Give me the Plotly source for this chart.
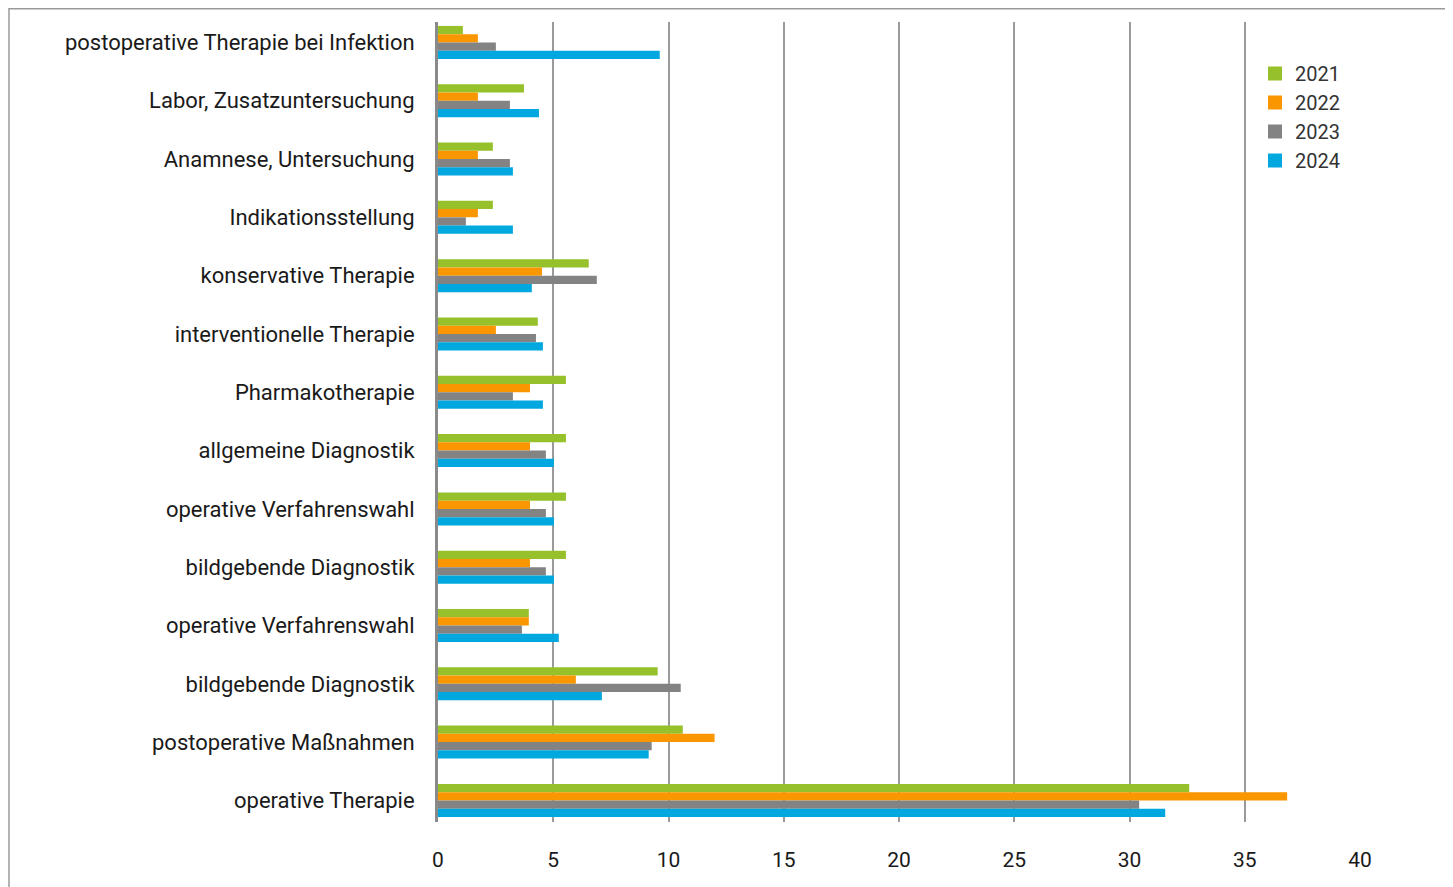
import plotly.graph_objects as go

categories = [
    "postoperative Therapie bei Infektion",
    "Labor, Zusatzuntersuchung",
    "Anamnese, Untersuchung",
    "Indikationsstellung",
    "konservative Therapie",
    "interventionelle Therapie",
    "Pharmakotherapie",
    "allgemeine Diagnostik",
    "operative Verfahrenswahl",
    "bildgebende Diagnostik",
    "operative Verfahrenswahl",
    "bildgebende Diagnostik",
    "postoperative Maßnahmen",
    "operative Therapie",
]
years = ["2021", "2022", "2023", "2024"]
v2021 = [1.08, 3.73, 2.38, 2.38, 6.54, 4.33, 5.55, 5.55, 5.55, 5.55, 3.94, 9.53, 10.62, 32.59]
v2022 = [1.73, 1.73, 1.73, 1.73, 4.51, 2.51, 3.99, 3.99, 3.99, 3.99, 3.94, 5.98, 12.0, 36.84]
v2023 = [2.51, 3.12, 3.12, 1.21, 6.89, 4.25, 3.25, 4.68, 4.68, 4.68, 3.64, 10.53, 9.27, 30.42]
v2024 = [9.62, 4.38, 3.25, 3.25, 4.07, 4.55, 4.55, 5.03, 5.03, 5.03, 5.24, 7.11, 9.14, 31.55]
x_ticks = [0, 5, 10, 15, 20, 25, 30, 35, 40]

series = [v2021, v2022, v2023, v2024]
colors = ["#96C12A", "#FA9600", "#838383", "#00A8DF"]

positions = list(range(len(categories)))

fig = go.Figure()
for name, vals, col in zip(years, series, colors):
    fig.add_trace(go.Bar(
        y=positions, x=vals, name=name, orientation="h",
        marker=dict(color=col, line=dict(width=0)),
        legendgroup=name, showlegend=False,
    ))
# legend entries with larger square swatches
for name, col in zip(years, colors):
    fig.add_trace(go.Scatter(
        x=[None], y=[None], mode="markers", name=name, legendgroup=name,
        marker=dict(symbol="square", size=14, color=col, line=dict(width=0)),
        showlegend=True,
    ))

FONT = "Roboto"
TXT = "#1a1a1a"

# page body has an 8px margin; figure coordinates = page coordinates - 8
W, H = 1445, 879
L, T = 430, 14
R = W + 8 - 1360
B = H + 8 - 822
pw = W - L - R
ph = H - T - B


def px(xf):
    return (xf - L) / pw


def py(yf):
    return (H - B - yf) / ph


fig.update_layout(
    width=W, height=H,
    margin=dict(l=L, r=R, t=T, b=B, pad=0),
    paper_bgcolor="white", plot_bgcolor="white",
    barmode="group", bargap=0.434, bargroupgap=0.0,
    font=dict(family=FONT, size=22, color=TXT),
    legend=dict(
        x=px(1247), y=py(46), xanchor="left", yanchor="top",
        font=dict(family=FONT, size=20, color="#333333"),
        bgcolor="rgba(0,0,0,0)", tracegroupgap=0, itemwidth=30,
    ),
    xaxis=dict(
        range=[0, 40], tickvals=x_ticks, ticktext=[str(t) for t in x_ticks],
        showgrid=True, gridcolor="#9a9a9a", gridwidth=1.5,
        zeroline=False, showline=False, ticks="",
        tickfont=dict(family=FONT, size=21, color=TXT),
        ticklabelstandoff=23,
    ),
    yaxis=dict(
        range=[13.37, -0.35], tickvals=positions, ticktext=categories,
        showgrid=False, zeroline=False,
        showline=True, linecolor="#8a8a8a", linewidth=3,
        ticks="", tickfont=dict(family=FONT, size=22, color=TXT),
        ticklabelstandoff=16,
    ),
    shapes=[dict(
        type="rect", xref="paper", yref="paper",
        x0=px(1), x1=px(1438), y0=py(895), y1=py(0.75),
        line=dict(color="#9a9a9a", width=1.5), fillcolor="rgba(0,0,0,0)",
        layer="below",
    )],
)

fig.write_html("out.html")
